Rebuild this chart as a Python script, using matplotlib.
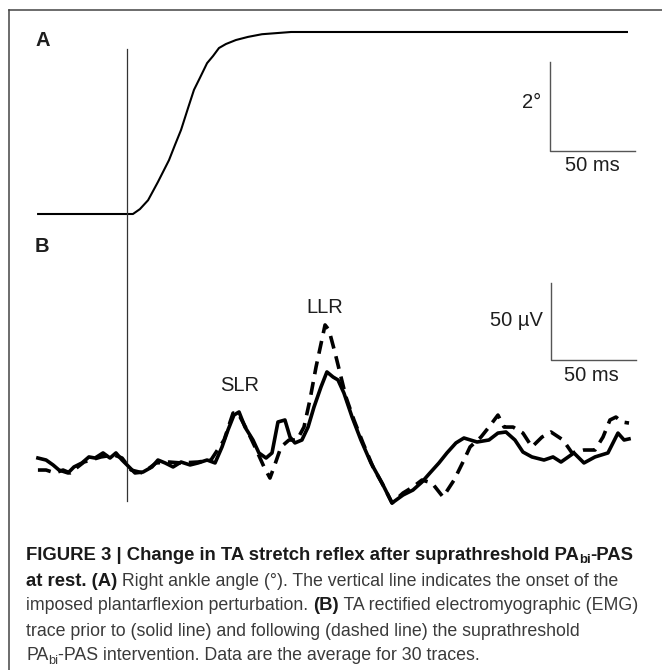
import matplotlib
matplotlib.use("Agg")
import matplotlib.pyplot as plt
from matplotlib.lines import Line2D
import numpy as np

plt.rcParams['font.family'] = ['Liberation Sans', 'DejaVu Sans']

# --- donnees : angle de cheville (A) ---
angle_t = [-52.9, 3.5, 7.6, 12.4, 18.2, 24.7, 28.2, 31.8, 35.9, 39.4, 42.9, 47.1,
           50.6, 54.1, 58.2, 64.1, 71.2, 79.4, 96.5, 294.7]
angle_deg = [0.0, 0.0, 0.11, 0.31, 0.72, 1.21, 1.55, 1.89, 2.38, 2.79, 3.06, 3.39,
             3.55, 3.73, 3.82, 3.91, 3.98, 4.04, 4.09, 4.09]

# --- donnees : EMG rectifie (B), avant (trait plein) ---
pre_t = [-52.4, -47.6, -43.5, -40.0, -34.7, -31.2, -26.5, -22.4, -18.8, -14.1, -10.0,
         -6.5, -2.9, 1.2, 4.7, 9.4, 14.7, 18.2, 22.4, 27.1, 31.8, 37.1, 41.8, 47.1,
         51.8, 55.9, 59.4, 62.9, 65.9, 69.4, 74.1, 77.6, 81.8, 85.3, 88.8, 92.9,
         95.9, 98.8, 102.9, 106.5, 110.0, 114.1, 117.6, 121.2, 124.1, 127.6, 132.4,
         137.6, 143.5, 150.0, 155.9, 162.4, 168.2, 173.5, 178.2, 183.5, 188.2,
         193.5, 198.2, 205.9, 212.9, 218.2, 222.9, 228.2, 232.9, 238.2, 245.3,
         250.6, 255.3, 262.9, 268.8, 275.3, 282.9, 288.8, 292.4, 295.3]
pre_uv = [37.0, 35.7, 32.5, 29.2, 27.3, 31.2, 33.8, 37.7, 37.0, 40.3, 37.0,
          40.3, 35.7, 31.2, 27.3, 27.9, 31.2, 35.7, 33.8, 31.2, 34.4, 32.5, 33.8, 35.7,
          33.8, 44.2, 55.2, 64.9, 66.9, 57.1, 48.7, 40.3, 37.0, 40.3, 60.4, 61.7,
          50.6, 46.8, 48.7, 57.1, 70.1, 83.1, 92.9, 89.6, 87.7, 79.2, 63.6,
          48.7, 33.8, 20.8, 7.8, 13.0, 16.2, 21.4, 27.3, 33.8, 40.3,
          46.8, 50.0, 47.4, 48.7, 53.2, 53.9, 48.7, 40.9, 37.7, 35.7,
          37.7, 34.4, 40.3, 33.8, 37.7, 40.3, 53.2, 48.7, 49.4]

# --- donnees : EMG rectifie (B), apres (tirets) ---
post_t = [-52.4, -47.6, -42.4, -37.6, -33.5, -25.3, -15.3, -7.6, -2.9, 2.4, 9.4,
          17.1, 24.7, 31.8, 41.8, 49.4, 57.1, 62.4, 65.3, 70.6, 75.3, 80.6, 84.1,
          86.5, 90.6, 95.3, 100.0, 104.1, 107.6, 111.2, 116.5, 118.8, 122.4, 125.3,
          128.8, 133.5, 138.8, 144.7, 151.2, 155.9, 162.4, 168.2, 173.5, 179.4,
          185.9, 192.4, 198.2, 201.8, 208.2, 212.9, 218.2, 221.8, 227.1, 232.9,
          238.2, 244.1, 249.4, 256.5, 261.8, 268.8, 275.3, 280.0, 284.1, 287.6,
          291.2, 295.3]
post_uv = [29.2, 29.2, 27.3, 29.2, 27.3, 34.4, 37.7, 39.0, 37.0, 29.2, 27.3,
           33.8, 34.4, 33.8, 34.4, 35.7, 48.7, 66.2, 66.2, 55.2, 44.2, 31.2, 24.0,
           31.2, 44.2, 48.7, 48.7, 57.1, 74.7, 96.1, 123.4, 120.1, 105.2, 92.2,
           76.6, 61.7, 46.8, 31.2, 18.2, 7.8, 14.3, 18.2, 22.7, 20.8,
           11.7, 22.7, 35.7, 44.2, 50.6, 57.1, 64.9, 57.1, 57.1, 53.2,
           44.2, 50.6, 53.9, 48.7, 40.3, 42.2, 42.2, 50.6, 61.7, 63.6,
           60.4, 59.7]

# barres d'echelle
bar_ms = 50
bar_deg = 2
bar_uv = 50

W, H = 662, 670
PX_PER_MS = 1.7
ONSET_PX = 127
INK = '#1e1e1e'
GREY = '#555555'

fig = plt.figure(figsize=(W / 100, H / 100), dpi=100)
xlim = (-ONSET_PX / PX_PER_MS, (W - ONSET_PX) / PX_PER_MS)

# panneau A : lignes 0..240 px, 44.5 px par degre, base a 214 px
ax_a = fig.add_axes([0, 1 - 240 / H, 1, 240 / H])
ax_a.set_xlim(xlim)
ax_a.set_ylim((214 - 240) / 44.5, 214 / 44.5)
ax_a.axis('off')
ax_a.plot(angle_t, angle_deg, color='black', lw=1.5, solid_capstyle='butt')
ax_a.axvline(0, ymin=0, ymax=1 - 49 / 240, color='#333333', lw=0.9)
bx, by = 249.0, 1.42
ax_a.plot([bx, bx, bx + bar_ms], [by + bar_deg, by, by], color=GREY, lw=1.0)
ax_a.text(bx - 5.5, by + bar_deg * 0.54, '2°', ha='right', va='center',
          fontsize=14.5, color=INK)
ax_a.text(bx + bar_ms / 2, by - 0.32, '50 ms', ha='center', va='center',
          fontsize=14.5, color=INK)

# panneau B : lignes 240..530 px, 1.54 px par uV, zero a 515 px
ax_b = fig.add_axes([0, 1 - 530 / H, 1, 290 / H])
ax_b.set_xlim(xlim)
ax_b.set_ylim((515 - 530) / 1.54, (515 - 240) / 1.54)
ax_b.axis('off')
ax_b.axvline(0, ymin=(530 - 501) / 290, ymax=1, color='#333333', lw=0.9)
ax_b.plot(pre_t, pre_uv, color='black', lw=2.6, solid_joinstyle='round')
ax_b.plot(post_t, post_uv, color='black', lw=2.6, linestyle=(0, (3.6, 2.2)))
bx, by = 249.4, 100.6
ax_b.plot([bx, bx, bx + bar_ms], [by + bar_uv, by, by], color=GREY, lw=1.0)
ax_b.text(bx - 4.9, by + bar_uv * 0.52, '50 µV', ha='right', va='center',
          fontsize=14.5, color=INK)
ax_b.text(bx + bar_ms / 2 - 1, by - 9.7, '50 ms', ha='center', va='center',
          fontsize=14.5, color=INK)
ax_b.text(66.5, 84.4, 'SLR', ha='center', va='center', fontsize=14.5, color=INK)
ax_b.text(116.5, 135.0, 'LLR', ha='center', va='center', fontsize=14.5, color=INK)

# lettres de panneau
fig.text(35 / W, 1 - 41 / H, 'A', fontsize=14.5, fontweight='bold',
         ha='left', va='center', color=INK)
fig.text(35 / W, 1 - 246 / H, 'B', fontsize=14.5, fontweight='bold',
         ha='left', va='center', color=INK)

# cadre (ouvert a droite et en bas)
fig.add_artist(Line2D([8.5 / W, 1], [1 - 9.5 / H, 1 - 9.5 / H], color='#444444', lw=1.1))
fig.add_artist(Line2D([8.5 / W, 8.5 / W], [1 - 9.5 / H, 0], color='#444444', lw=1.1))

# legende de la figure
cap_lines = [
    [("FIGURE 3 | Change in TA stretch reflex after suprathreshold PA", 'b', 0),
     ("bi", 'b', 1), ("-PAS", 'b', 0)],
    [("at rest. (A)", 'b', 0),
     (" Right ankle angle (°). The vertical line indicates the onset of the", 'r', 0)],
    [("imposed plantarflexion perturbation. ", 'r', 0), ("(B)", 'b', 0),
     (" TA rectified electromyographic (EMG)", 'r', 0)],
    [("trace prior to (solid line) and following (dashed line) the suprathreshold", 'r', 0)],
    [("PA", 'r', 0), ("bi", 'r', 1),
     ("-PAS intervention. Data are the average for 30 traces.", 'r', 0)],
]
cap_y = [553, 579, 604, 629, 654]
size_bold, size_reg = 13.3, 12.8
renderer = fig.canvas.get_renderer()
for segs, yc in zip(cap_lines, cap_y):
    x = 26.0
    for txt, w, sub in segs:
        size = (size_bold if w == 'b' else size_reg) * (0.72 if sub else 1.0)
        yb = yc + 6.5 + (3.5 if sub else 0)
        t = fig.text(x / W, 1 - yb / H, txt, fontsize=size,
                     fontweight='bold' if w == 'b' else 'normal',
                     color='#1a1a1a' if w == 'b' else '#3a3a3a',
                     ha='left', va='baseline')
        bb = t.get_window_extent(renderer)
        x += bb.width

plt.savefig('out.png', dpi=100)
plt.close()
